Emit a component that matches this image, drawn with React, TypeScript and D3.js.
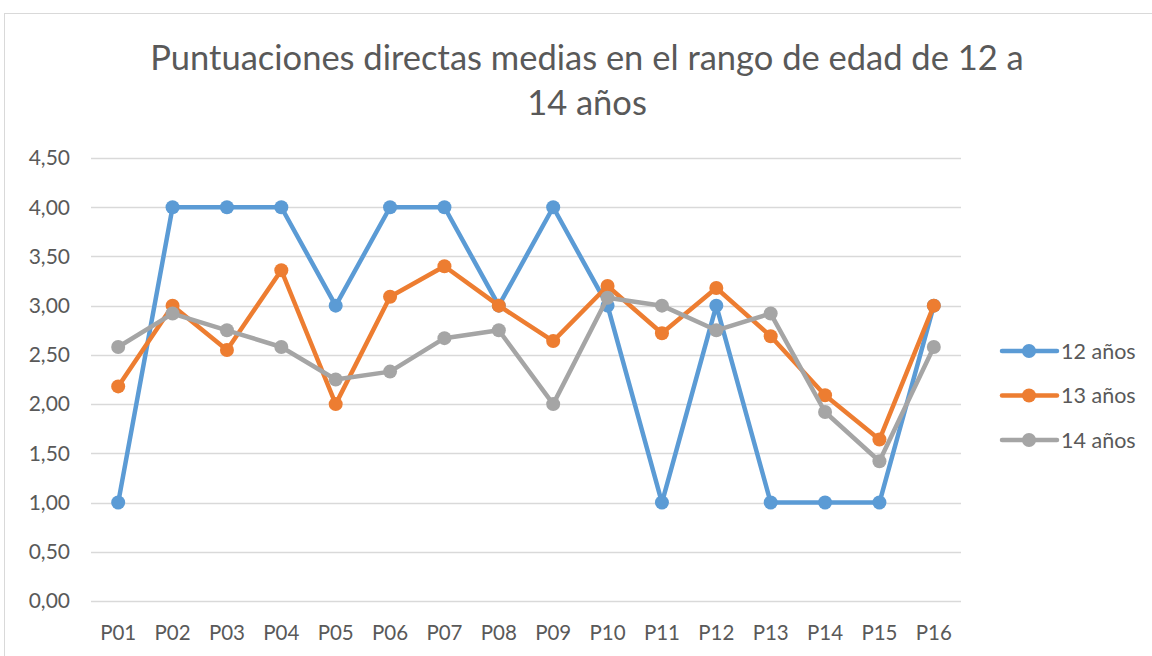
import React, { useRef, useEffect } from 'react'
import * as d3 from 'd3'

const categories = ['P01', 'P02', 'P03', 'P04', 'P05', 'P06', 'P07', 'P08', 'P09', 'P10', 'P11', 'P12', 'P13', 'P14', 'P15', 'P16']
const seriesNames = ['12 años', '13 años', '14 años']
const values12 = [1, 4, 4, 4, 3, 4, 4, 3, 4, 3, 1, 3, 1, 1, 1, 3]
const values13 = [2.18, 3.0, 2.55, 3.36, 2.0, 3.09, 3.4, 3.0, 2.64, 3.2, 2.72, 3.18, 2.69, 2.09, 1.64, 3.0]
const values14 = [2.58, 2.92, 2.75, 2.58, 2.25, 2.33, 2.67, 2.75, 2.0, 3.08, 3.0, 2.75, 2.92, 1.92, 1.42, 2.58]
const yTicks = [0, 0.5, 1, 1.5, 2, 2.5, 3, 3.5, 4, 4.5]
const titleLines = ['Puntuaciones directas medias en el rango de edad de 12 a', '14 años']

const colors = ['#5B9BD5', '#ED7D31', '#A5A5A5']
const FONT = 'Lato, "Open Sans", sans-serif'

export default function App() {
  const ref = useRef<SVGSVGElement>(null)

  useEffect(() => {
    const svg = d3.select(ref.current)
    svg.selectAll('*').remove()

    const left = 91, right = 961, top = 158, bottom = 601

    // chart border
    svg.append('rect')
      .attr('x', 4.5).attr('y', 13.5)
      .attr('width', 1160).attr('height', 700)
      .attr('fill', '#fff')
      .attr('stroke', '#D9D9D9')

    // title
    svg.append('g')
      .selectAll('text')
      .data(titleLines)
      .join('text')
      .attr('x', 587)
      .attr('y', (d, i) => 70 + i * 45)
      .attr('text-anchor', 'middle')
      .attr('fill', '#595959')
      .style('font-family', FONT)
      .style('font-size', '34.5px')
      .text(d => d)

    const x = d3.scaleBand().domain(categories).range([left, right])
    const y = d3.scaleLinear().domain([0, 4.5]).range([bottom, top])

    // gridlines
    svg.append('g')
      .selectAll('line')
      .data(yTicks)
      .join('line')
      .attr('x1', left).attr('x2', right)
      .attr('y1', d => Math.round(y(d)) + 0.5)
      .attr('y2', d => Math.round(y(d)) + 0.5)
      .attr('stroke', '#D9D9D9')
      .attr('stroke-width', 1.3)

    // y labels
    svg.append('g')
      .selectAll('text')
      .data(yTicks)
      .join('text')
      .attr('x', 70)
      .attr('y', d => y(d))
      .attr('dy', '0.35em')
      .attr('text-anchor', 'end')
      .attr('fill', '#595959')
      .style('font-family', FONT)
      .style('font-size', '21px')
      .text(d => d3.format('.2f')(d).replace('.', ','))

    // x labels
    svg.append('g')
      .selectAll('text')
      .data(categories)
      .join('text')
      .attr('x', d => x(d)! + x.bandwidth() / 2)
      .attr('y', 640)
      .attr('text-anchor', 'middle')
      .attr('fill', '#595959')
      .style('font-family', FONT)
      .style('font-size', '20.5px')
      .text(d => d)

    const cx = (i: number) => x(categories[i])! + x.bandwidth() / 2
    const line = d3.line<number>().x((d, i) => cx(i)).y(d => y(d))

    const allSeries = [values12, values13, values14]
    allSeries.forEach((vals, s) => {
      const g = svg.append('g')
      g.append('path')
        .datum(vals)
        .attr('d', line)
        .attr('fill', 'none')
        .attr('stroke', colors[s])
        .attr('stroke-width', 4.5)
        .attr('stroke-linejoin', 'round')
        .attr('stroke-linecap', 'round')
      g.selectAll('circle')
        .data(vals)
        .join('circle')
        .attr('cx', (d, i) => cx(i))
        .attr('cy', d => y(d))
        .attr('r', 7)
        .attr('fill', colors[s])
    })

    // legend
    const legend = svg.append('g')
      .selectAll('g')
      .data(seriesNames)
      .join('g')
      .attr('transform', (d, i) => `translate(0, ${351 + i * 44.5})`)
    legend.append('line')
      .attr('x1', 1002).attr('x2', 1057)
      .attr('stroke', (d, i) => colors[i])
      .attr('stroke-width', 4.5)
      .attr('stroke-linecap', 'round')
    legend.append('circle')
      .attr('cx', 1029).attr('r', 7)
      .attr('fill', (d, i) => colors[i])
    legend.append('text')
      .attr('x', 1061)
      .attr('dy', '0.35em')
      .attr('fill', '#595959')
      .style('font-family', FONT)
      .style('font-size', '21.5px')
      .text(d => d)
  }, [])

  return (
    <div style={{ position: 'fixed', left: 0, top: 0 }}>
      <svg ref={ref} width={1152} height={656} style={{ display: 'block' }} />
    </div>
  )
}
